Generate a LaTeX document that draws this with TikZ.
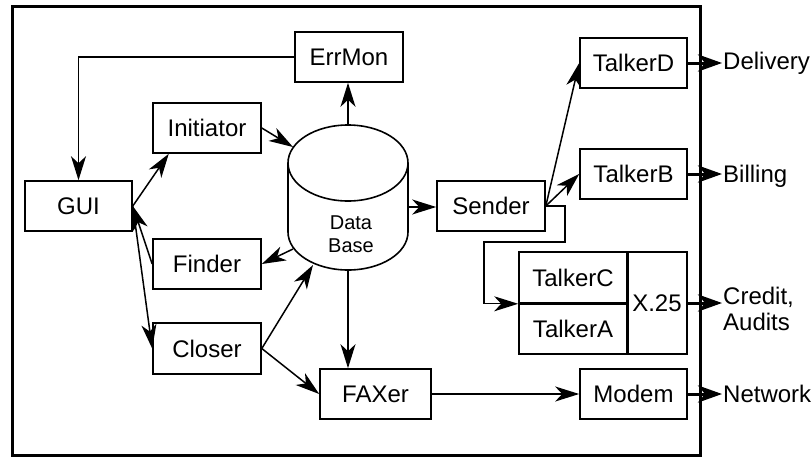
\documentclass[tikz,border=0pt]{standalone}
\usepackage{fontspec}
\setmainfont{Liberation Sans}
\usetikzlibrary{arrows.meta}
\tikzset{
  box/.style={draw, line width=1.6pt, minimum width=108pt, minimum height=50pt,
    inner sep=0pt, font=\fontsize{24}{26}\selectfont},
  lbl/.style={inner sep=1pt, anchor=west, align=left, font=\fontsize{24}{26}\selectfont},
  arr/.style={line width=1.5pt, -{Stealth[length=24pt,width=15pt,inset=7pt]}},
  outarr/.style={line width=3pt, -{Stealth[length=24pt,width=17pt,inset=7pt]}},
}
\begin{document}
\begin{tikzpicture}[x=1pt,y=-1pt]
\useasboundingbox (0,0) rectangle (812,456);

% system boundary
\draw[line width=3pt] (12,6.5) rectangle (700,455);

% processes
\node[box] (errmon)    at (349,57)    {ErrMon};
\node[box] (initiator) at (207,128)   {Initiator};
\node[box, minimum width=107pt] (gui) at (78.5,206) {GUI};
\node[box] (finder)    at (207,264)   {Finder};
\node[box, minimum height=51pt] (closer) at (207,348.5) {Closer};
\node[box, minimum width=111pt] (faxer) at (375.5,394) {FAXer};
\node[box] (sender)    at (491,206)   {Sender};
\node[box, minimum width=107pt] (talkerD) at (633.5,63)  {TalkerD};
\node[box, minimum width=107pt] (talkerB) at (633.5,174) {TalkerB};
\node[box, minimum width=107pt] (modem)   at (633.5,394) {Modem};

% combined TalkerC / TalkerA / X.25 block
\node[box, minimum height=51pt] (talkerC) at (573,277.5) {TalkerC};
\node[box, minimum height=51pt] (talkerA) at (573,328.5) {TalkerA};
\node[box, minimum width=60pt, minimum height=102pt] (x25) at (657,303) {X.25};
\draw[line width=2.5pt] (talkerC.north east) -- (talkerA.south east);
\draw[line width=2pt] (talkerC.south west) -- (talkerC.south east);

% data base cylinder
\draw[line width=1.6pt] (288,163) -- (288,232)
  arc[start angle=180, end angle=360, x radius=60pt, y radius=38pt] -- (408,163);
\draw[line width=1.6pt] (348,163) ellipse [x radius=60pt, y radius=38pt];
\node[font=\fontsize{20}{23}\selectfont, align=center] (dbtext) at (351,234) {Data\\Base};
\coordinate (dbTop)   at (348,125);
\coordinate (dbBot)   at (348,270);
\coordinate (dbE)     at (408,207);
\coordinate (dbIn)    at (293,147);
\coordinate (dbFind)  at (293,249);
\coordinate (dbClose) at (313,265);

% external parties
\node[lbl] (delivery) at (722,63)  {Delivery};
\node[lbl] (billing)  at (722,176) {Billing};
\node[lbl] (credit)   at (722,309) {Credit,\\Audits};
\node[lbl] (network)  at (722,394) {Network};

% internal flows
\draw[arr] (errmon.west) -| (gui.north);
\draw[arr] (gui.east) -- (initiator.214);
\draw[arr] (initiator.east) -- (dbIn);
\draw[arr] (dbTop) -- (dbTop |- errmon.south);
\draw[arr] (dbFind) -- (finder.east);
\draw[arr] (finder.west) -- (gui.east);
\draw[arr] (gui.east) -- (closer.west);
\draw[arr] (closer.east) -- (dbClose);
\draw[arr] (closer.east) -- (faxer.west);
\draw[arr] (dbBot) -- (dbBot |- faxer.north);
\draw[arr] (dbE) -- (dbE -| sender.west);
\draw[arr] (sender.east) -- (talkerD.west);
\draw[arr] (sender.east) -- (talkerB.west);
\draw[arr, line width=1.2pt] (sender.east) -- (565,206) -- (565,242) -- (484,242)
  |- (talkerC.south west);
\draw[arr] (faxer.east) -- (modem.west);

% flows leaving the system
\draw[outarr] (talkerD.east) -- (delivery.west);
\draw[outarr] (talkerB.east) -- (talkerB.east -| billing.west);
\draw[outarr] (x25.east) -- (x25.east -| credit.west);
\draw[outarr] (modem.east) -- (network.west);
\end{tikzpicture}
\end{document}
